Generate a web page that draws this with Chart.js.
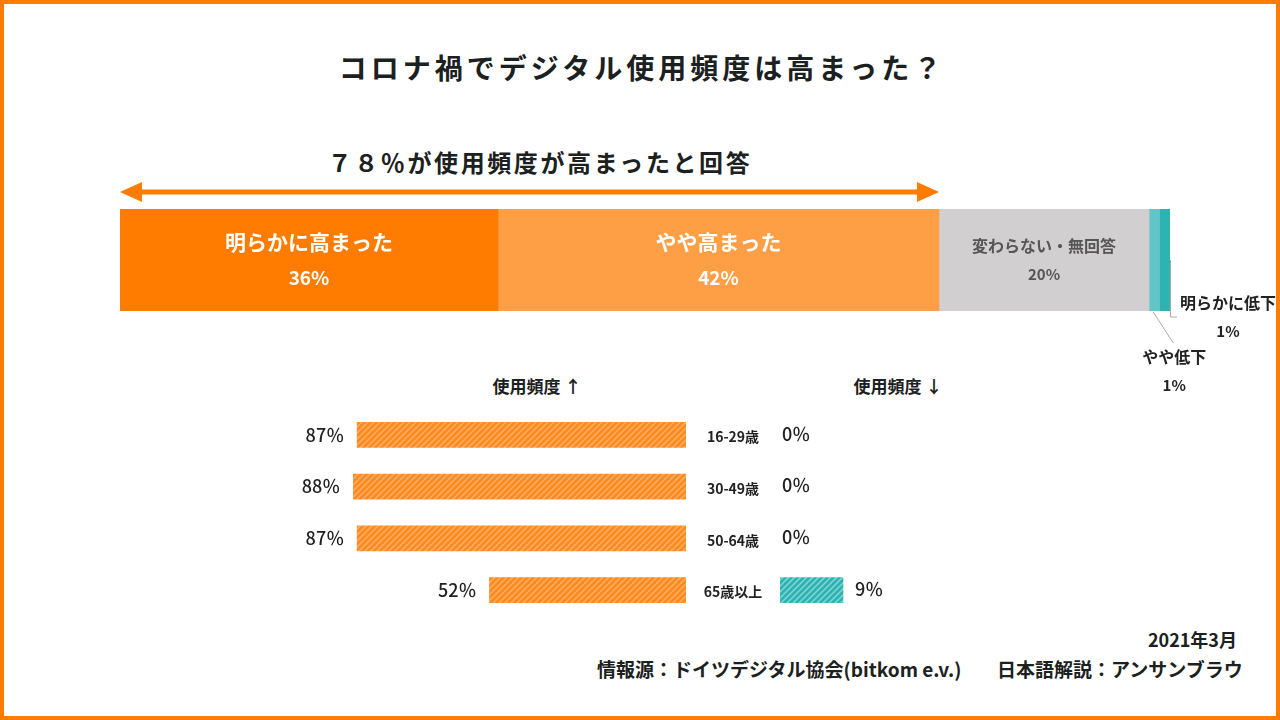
<!DOCTYPE html>
<html>
<head>
<meta charset="utf-8">
<script src="https://cdn.jsdelivr.net/npm/chart.js@4/dist/chart.umd.min.js"></script>
<style>
  body { margin: 0; width: 1280px; height: 720px; position: relative; background: #fff; overflow: hidden;
         font-family: "Noto Sans CJK JP", "Noto Sans", sans-serif; color: #1b2020; }
  .frame { position: absolute; left: 0; top: 0; width: 1280px; height: 720px; box-sizing: border-box; border: 4px solid #FF7C00; pointer-events: none; }
  .txt { position: absolute; white-space: nowrap; font-weight: bold; }
  canvas { position: absolute; }
</style>
</head>
<body>
<div class="txt" style="left:0;width:1284px;text-align:center;top:47px;font-size:28px;letter-spacing:4px;">コロナ禍でデジタル使用頻度は高まった？</div>
<div class="txt" style="left:240px;width:600px;text-align:center;top:144px;font-size:24px;letter-spacing:2.6px;">７８％が使用頻度が高まったと回答</div>
<div class="txt" style="left:437px;width:200px;text-align:center;top:373px;font-size:17px;">使用頻度 ↑</div>
<div class="txt" style="left:798px;width:200px;text-align:center;top:373px;font-size:17px;">使用頻度 ↓</div>
<div class="txt" style="right:43px;top:626px;font-size:18px;">2021年3月</div>
<div class="txt" style="left:597px;top:655px;font-size:19px;">情報源：ドイツデジタル協会(bitkom e.v.)</div>
<div class="txt" style="left:997px;top:655px;font-size:19px;">日本語解説：アンサンブラウ</div>

<canvas id="topChart" style="left:0;top:180px;" width="1280" height="220"></canvas>
<canvas id="upChart" style="left:0;top:400px;" width="690" height="230"></canvas>
<canvas id="downChart" style="left:690px;top:400px;" width="300" height="230"></canvas>
<div class="frame"></div>

<script>
// overall answer shares (%)
const answerLabels = ['明らかに高まった', 'やや高まった', '変わらない・無回答', 'やや低下', '明らかに低下'];
const answerValues = [36, 42, 20, 1, 1];
const answerColors = ['#FF7C00', '#FF9F45', '#D1CFD0', '#62C6C6', '#2EB3B3'];

// by age group (%)
const ageGroups = ['16-29歳', '30-49歳', '50-64歳', '65歳以上'];
const usageUp = [87, 88, 87, 52];
const usageDown = [0, 0, 0, 9];

const FONT = '"Noto Sans CJK JP", "Noto Sans", sans-serif';

function hatch(base, stripe) {
  const c = document.createElement('canvas');
  c.width = 6; c.height = 6;
  const g = c.getContext('2d');
  g.fillStyle = base;
  g.fillRect(0, 0, 6, 6);
  g.strokeStyle = stripe;
  g.lineWidth = 1.5;
  g.beginPath();
  g.moveTo(0, 6); g.lineTo(6, 0);
  g.moveTo(-3, 3); g.lineTo(3, -3);
  g.moveTo(3, 9); g.lineTo(9, 3);
  g.stroke();
  return g.createPattern(c, 'repeat');
}

// top 100% stacked bar
const topLabels = {
  id: 'topLabels',
  afterDatasetsDraw(chart) {
    const ctx = chart.ctx;
    const xs = chart.scales.x;
    ctx.save();
    // arrow over the "increased" share
    const ax0 = xs.getPixelForValue(0);
    const ax1 = xs.getPixelForValue(answerValues[0] + answerValues[1]);
    const ay = 12;
    ctx.strokeStyle = '#FF7C00';
    ctx.fillStyle = '#FF7C00';
    ctx.lineWidth = 5;
    ctx.beginPath(); ctx.moveTo(ax0 + 14, ay); ctx.lineTo(ax1 - 14, ay); ctx.stroke();
    ctx.beginPath(); ctx.moveTo(ax0, ay); ctx.lineTo(ax0 + 22, ay - 10); ctx.lineTo(ax0 + 22, ay + 10); ctx.closePath(); ctx.fill();
    ctx.beginPath(); ctx.moveTo(ax1, ay); ctx.lineTo(ax1 - 22, ay - 10); ctx.lineTo(ax1 - 22, ay + 10); ctx.closePath(); ctx.fill();

    ctx.textAlign = 'center';
    ctx.textBaseline = 'middle';
    chart.data.datasets.forEach((ds, i) => {
      const bar = chart.getDatasetMeta(i).data[0];
      const cx = (bar.x + bar.base) / 2;
      const cy = bar.y;
      const v = ds.data[0] + '%';
      if (i < 2) {
        ctx.fillStyle = '#fff';
        ctx.font = 'bold 21px ' + FONT;
        ctx.fillText(ds.label, cx, cy - 18);
        ctx.font = 'bold 19px ' + FONT;
        ctx.fillText(v, cx, cy + 18);
      } else if (i === 2) {
        ctx.fillStyle = '#555';
        ctx.font = 'bold 16px ' + FONT;
        ctx.fillText(ds.label, cx, cy - 14);
        ctx.font = 'bold 15px ' + FONT;
        ctx.fillText(v, cx, cy + 14);
      } else {
        const bottom = bar.y + bar.height / 2;
        ctx.strokeStyle = '#aaa';
        ctx.lineWidth = 1;
        ctx.fillStyle = '#222';
        ctx.beginPath();
        if (i === 4) {
          ctx.moveTo(bar.x + 0.5, cy); ctx.lineTo(bar.x + 0.5, bottom + 6); ctx.lineTo(bar.x + 7, bottom + 6);
          ctx.stroke();
          ctx.font = 'bold 16px ' + FONT;
          ctx.fillText(ds.label, bar.x + 58, bottom - 8);
          ctx.font = 'bold 15px ' + FONT;
          ctx.fillText(v, bar.x + 58, bottom + 20);
        } else {
          ctx.moveTo(cx - 1, bottom + 1); ctx.lineTo(cx + 19, bottom + 32);
          ctx.stroke();
          ctx.font = 'bold 16px ' + FONT;
          ctx.fillText(ds.label, cx + 20, bottom + 46);
          ctx.font = 'bold 15px ' + FONT;
          ctx.fillText(v, cx + 20, bottom + 74);
        }
      }
    });
    ctx.restore();
  }
};

new Chart(document.getElementById('topChart'), {
  type: 'bar',
  data: {
    labels: ['all'],
    datasets: answerLabels.map((l, i) => ({
      label: l, data: [answerValues[i]], backgroundColor: answerColors[i],
      barPercentage: 1, categoryPercentage: 1
    }))
  },
  options: {
    indexAxis: 'y', responsive: false, animation: false,
    layout: { padding: { left: 120, right: 110, top: 29, bottom: 89 } },
    scales: {
      x: { stacked: true, min: 0, max: 100, display: false },
      y: { stacked: true, display: false }
    },
    plugins: { legend: { display: false }, tooltip: { enabled: false } }
  },
  plugins: [topLabels]
});

// age group: increased (left, reversed)
const upLabels = {
  id: 'upLabels',
  afterDatasetsDraw(chart) {
    const ctx = chart.ctx;
    ctx.save();
    ctx.fillStyle = '#222';
    ctx.font = '500 18px ' + FONT;
    ctx.textAlign = 'right';
    ctx.textBaseline = 'middle';
    chart.getDatasetMeta(0).data.forEach((bar, i) => {
      ctx.fillText(usageUp[i] + '％', bar.x - 13, bar.y);
    });
    ctx.restore();
  }
};

const orangeHatch = hatch('#FF8A1F', '#FFB066');
const tealHatch = hatch('#2EB3B3', '#86D6D6');

new Chart(document.getElementById('upChart'), {
  type: 'bar',
  data: {
    labels: ageGroups,
    datasets: [{ data: usageUp, backgroundColor: c => (c.raw > 0 ? orangeHatch : 'rgba(0,0,0,0)'), barThickness: 25, categoryPercentage: 1 }]
  },
  options: {
    indexAxis: 'y', responsive: false, animation: false,
    layout: { padding: { left: 308, right: 4, top: 9, bottom: 14 } },
    scales: {
      x: { min: 0, max: 100, reverse: true, display: false },
      y: { display: false }
    },
    plugins: { legend: { display: false }, tooltip: { enabled: false } }
  },
  plugins: [upLabels]
});

// age group: decreased (right)
const downLabels = {
  id: 'downLabels',
  afterDatasetsDraw(chart) {
    const ctx = chart.ctx;
    ctx.save();
    ctx.textBaseline = 'middle';
    chart.getDatasetMeta(0).data.forEach((bar, i) => {
      ctx.fillStyle = '#222';
      ctx.font = 'bold 14px ' + FONT;
      ctx.textAlign = 'center';
      ctx.fillText(ageGroups[i], 43, bar.y + 2);
      ctx.font = '500 18px ' + FONT;
      ctx.textAlign = 'left';
      ctx.fillText(usageDown[i] + '％', bar.x + (usageDown[i] > 0 ? 12 : 2), bar.y - 1);
    });
    ctx.restore();
  }
};

new Chart(document.getElementById('downChart'), {
  type: 'bar',
  data: {
    labels: ageGroups,
    datasets: [{ data: usageDown, backgroundColor: c => (c.raw > 0 ? tealHatch : 'rgba(0,0,0,0)'), barThickness: 25, categoryPercentage: 1 }]
  },
  options: {
    indexAxis: 'y', responsive: false, animation: false,
    layout: { padding: { left: 90, right: 70, top: 9, bottom: 14 } },
    scales: {
      x: { min: 0, max: 20, display: false },
      y: { display: false }
    },
    plugins: { legend: { display: false }, tooltip: { enabled: false } }
  },
  plugins: [downLabels]
});
</script>
</body>
</html>
